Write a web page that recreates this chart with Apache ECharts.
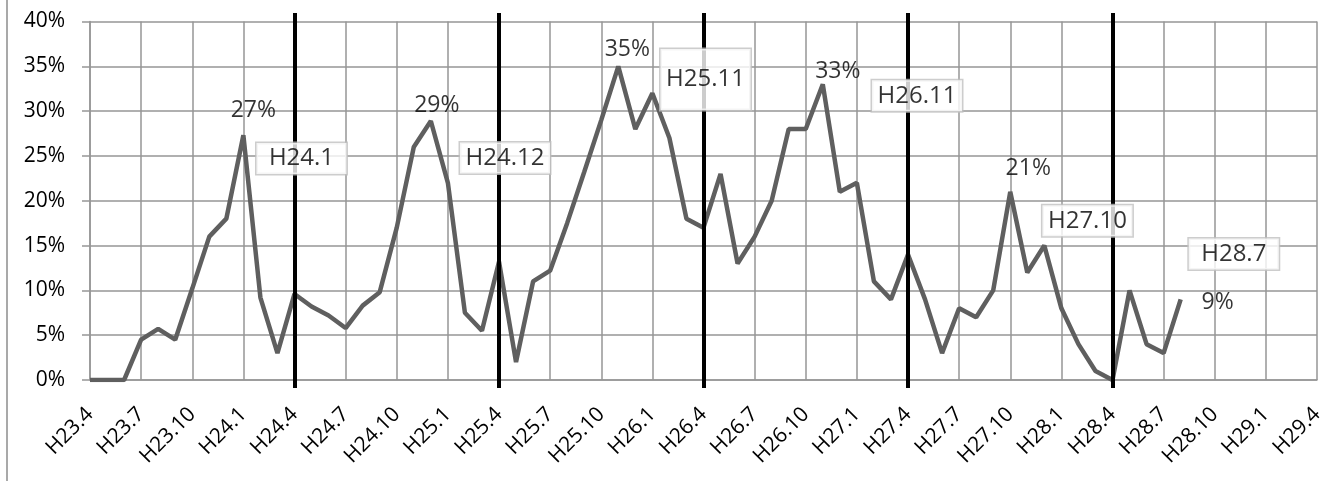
<!DOCTYPE html>
<html>
<head>
<meta charset="utf-8">
<script src="https://cdn.jsdelivr.net/npm/echarts@6/dist/echarts.min.js"></script>
<style>
html,body{margin:0;padding:0;background:#fff}
#c{width:1328px;height:481px}
</style>
</head>
<body>
<div id="c"></div>
<script>
// ---- data ----
const months = [
  'H23.4','H23.5','H23.6','H23.7','H23.8','H23.9','H23.10','H23.11','H23.12',
  'H24.1','H24.2','H24.3','H24.4','H24.5','H24.6','H24.7','H24.8','H24.9','H24.10','H24.11','H24.12',
  'H25.1','H25.2','H25.3','H25.4','H25.5','H25.6','H25.7','H25.8','H25.9','H25.10','H25.11','H25.12',
  'H26.1','H26.2','H26.3','H26.4','H26.5','H26.6','H26.7','H26.8','H26.9','H26.10','H26.11','H26.12',
  'H27.1','H27.2','H27.3','H27.4','H27.5','H27.6','H27.7','H27.8','H27.9','H27.10','H27.11','H27.12',
  'H28.1','H28.2','H28.3','H28.4','H28.5','H28.6','H28.7','H28.8','H28.9','H28.10','H28.11','H28.12',
  'H29.1','H29.2','H29.3','H29.4'
];
// monthly rate (%), H23.4 .. H28.8
const rate = [
  0, 0, 0, 4.5, 5.7, 4.5, 10.2, 16.0, 18.0,
  27.3, 9.2, 3.0, 9.6, 8.2, 7.2, 5.8, 8.3, 9.8, 17.0, 26.0, 28.9,
  22.0, 7.5, 5.5, 13.2, 2.0, 11.0, 12.2, 17.5, 23.2, 29.0, 35.0, 28.0,
  32.0, 27.0, 18.0, 17.0, 23.0, 13.0, 16.0, 20.0, 28.0, 28.0, 33.0, 21.0,
  22.0, 11.0, 9.0, 14.0, 9.0, 3.0, 8.0, 7.0, 10.0, 21.0, 12.0, 15.0,
  8.0, 4.0, 1.0, 0.0, 10.0, 4.0, 3.0, 9.0
];
const yTicks = [0, 5, 10, 15, 20, 25, 30, 35, 40];
const fiscalYearStarts = ['H24.4', 'H25.4', 'H26.4', 'H27.4', 'H28.4'];
const labeledMonths = ['H24.1', 'H24.12', 'H25.11', 'H26.11', 'H27.10', 'H28.8'];
const eventLabels = ['H24.1', 'H24.12', 'H25.11', 'H26.11', 'H27.10', 'H28.7'];

// ---- layout / style (not data) ----
const FONT = '"Open Sans", "Noto Sans", sans-serif';
const GRID = { left: 90, right: 11, top: 21.5, bottom: 101 };
// label centre relative to the point, in px
const peakLabelShift = {
  'H24.1':  [10, -25],
  'H24.12': [6, -16],
  'H25.11': [9, -17],
  'H26.11': [15, -13],
  'H27.10': [18, -23],
  'H28.8':  [37, 3]
};
// anchor category, y (in % units) and pixel nudge for each event box
const eventBoxPlace = [
  { at: 'H24.4',  y: 24.71, dx: 7,  tall: false },
  { at: 'H25.4',  y: 24.77, dx: 6,  tall: false },
  { at: 'H26.4',  y: 33.53, dx: 2,  tall: true  },
  { at: 'H27.4',  y: 31.71, dx: 9,  tall: false },
  { at: 'H28.2',  y: 17.76, dx: 9,  tall: false },
  { at: 'H28.11', y: 14.06, dx: 2,  tall: false }
];

const gridColor = '#969696';

const peakData = labeledMonths.map(m => {
  const s = peakLabelShift[m];
  return {
    value: [m, rate[months.indexOf(m)]],
    label: { position: [0.5 + s[0], 0.5 + s[1]] }
  };
});

const boxData = eventLabels.map((t, i) => {
  const p = eventBoxPlace[i];
  return {
    name: t,
    value: [p.at, p.y],
    label: {
      position: [0.5 + p.dx, 0.5],
      padding: p.tall ? [19, 7, 17, 7] : [3, 7, 3, 7]
    }
  };
});

const chart = echarts.init(document.getElementById('c'), null, { renderer: 'canvas' });
chart.setOption({
  animation: false,
  backgroundColor: '#fff',
  graphic: [{
    type: 'line', silent: true, z: 0,
    shape: { x1: 7, y1: 0, x2: 7, y2: 481 },
    style: { stroke: '#8c8c8c', lineWidth: 1.5 }
  }],
  grid: [
    Object.assign({ containLabel: false, outerBoundsMode: 'none' }, GRID),
    { left: GRID.left, right: GRID.right, top: 13, bottom: 93, containLabel: false, outerBoundsMode: 'none' }
  ],
  xAxis: [{
    type: 'category',
    data: months,
    boundaryGap: false,
    gridIndex: 0,
    axisLine: { show: true, lineStyle: { color: gridColor, width: 1.5 } },
    axisTick: { show: false },
    axisLabel: {
      interval: 2,
      rotate: 45,
      margin: 31,
      fontSize: 21,
      color: '#000',
      fontFamily: FONT,
      hideOverlap: false
    },
    splitLine: { show: true, interval: 2, lineStyle: { color: gridColor, width: 1.5 } }
  }, {
    type: 'category',
    data: months,
    boundaryGap: false,
    gridIndex: 1,
    show: false
  }],
  yAxis: [{
    type: 'value',
    gridIndex: 0,
    min: yTicks[0],
    max: yTicks[yTicks.length - 1],
    interval: yTicks[1] - yTicks[0],
    axisLine: { show: true, lineStyle: { color: gridColor, width: 1.5 } },
    axisTick: { show: true, length: 8, inside: false, lineStyle: { color: gridColor, width: 1.5 } },
    axisLabel: {
      formatter: '{value}%',
      margin: 25,
      fontSize: 21,
      color: '#000',
      fontFamily: FONT
    },
    splitLine: { show: true, lineStyle: { color: gridColor, width: 1.5 } }
  }, {
    type: 'value',
    gridIndex: 1,
    min: 0, max: 1,
    show: false
  }],
  series: [{
    type: 'line',
    name: 'rate',
    xAxisIndex: 0, yAxisIndex: 0,
    data: rate,
    symbol: 'none',
    z: 2,
    lineStyle: { color: '#5f5f5f', width: 4.5 },
    itemStyle: { color: '#5f5f5f' },
    emphasis: { disabled: true }
  }, {
    type: 'scatter',
    name: 'peaks',
    xAxisIndex: 0, yAxisIndex: 0,
    data: peakData,
    symbolSize: 1,
    itemStyle: { color: 'rgba(0,0,0,0)' },
    z: 4,
    silent: true,
    label: {
      show: true,
      formatter: (p) => Math.round(p.value[1]) + '%',
      align: 'center',
      verticalAlign: 'middle',
      color: '#000',
      fontSize: 23,
      fontFamily: FONT
    },
    emphasis: { disabled: true }
  }, {
    type: 'line',
    name: 'fy',
    xAxisIndex: 1, yAxisIndex: 1,
    data: [],
    z: 3,
    silent: true,
    markLine: {
      silent: true,
      symbol: ['none', 'none'],
      animation: false,
      label: { show: false },
      lineStyle: { color: '#000', width: 4, type: 'solid' },
      emphasis: { disabled: true },
      data: fiscalYearStarts.map(m => ({ xAxis: m }))
    }
  }, {
    type: 'scatter',
    name: 'events',
    xAxisIndex: 0, yAxisIndex: 0,
    data: boxData,
    symbolSize: 1,
    itemStyle: { color: 'rgba(0,0,0,0)' },
    z: 10,
    silent: true,
    label: {
      show: true,
      formatter: '{b}',
      color: '#000',
      fontSize: 24,
      fontFamily: FONT,
      lineHeight: 25,
      width: 76,
      align: 'center',
      verticalAlign: 'middle',
      backgroundColor: '#fff',
      borderColor: '#c0c0c0',
      borderWidth: 1.5
    },
    emphasis: { disabled: true }
  }]
});
</script>
</body>
</html>
